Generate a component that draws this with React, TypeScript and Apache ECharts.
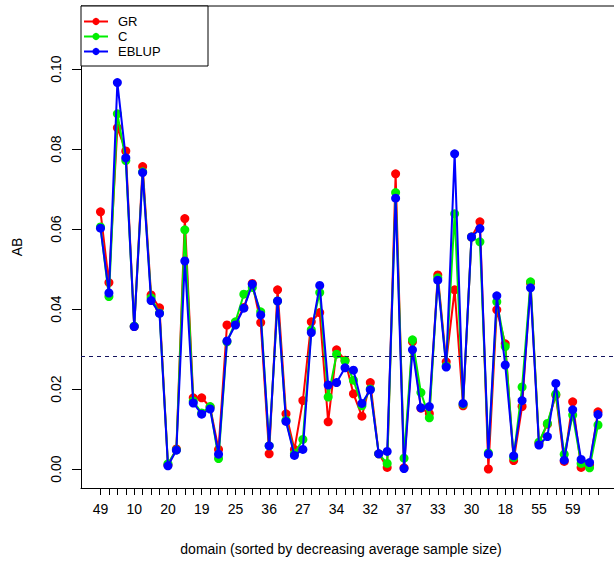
import React, { useEffect, useRef } from "react";
import * as echarts from "echarts";

const domainLabels = [
  "49", "", "", "", "10", "", "", "", "20", "", "", "", "19", "", "", "",
  "25", "", "", "", "36", "", "", "", "27", "", "", "", "34", "", "", "",
  "32", "", "", "", "37", "", "", "", "33", "", "", "", "30", "", "", "",
  "18", "", "", "", "55", "", "", "", "59", "", "", "",
];

const grValues = [
  0.0643, 0.0466, 0.0853, 0.0795, 0.0356, 0.0756, 0.0435, 0.0403, 0.0010, 0.0050,
  0.0626, 0.0178, 0.0178, 0.0155, 0.0049, 0.0360, 0.0364, 0.0404, 0.0464, 0.0366,
  0.0038, 0.0448, 0.0138, 0.0049, 0.0171, 0.0368, 0.0391, 0.0118, 0.0298, 0.0272,
  0.0188, 0.0132, 0.0216, 0.0038, 0.0004, 0.0738, 0.0003, 0.0318, 0.0152, 0.0139,
  0.0485, 0.0268, 0.0448, 0.0158, 0.0580, 0.0618, 0.0000, 0.0398, 0.0313, 0.0021,
  0.0156, 0.0465, 0.0065, 0.0112, 0.0185, 0.0019, 0.0168, 0.0004, 0.0010, 0.0143,
];

const cValues = [
  0.0605, 0.0431, 0.0888, 0.0771, 0.0357, 0.0743, 0.0428, 0.0390, 0.0013, 0.0048,
  0.0598, 0.0170, 0.0140, 0.0156, 0.0026, 0.0318, 0.0368, 0.0437, 0.0454, 0.0393,
  0.0058, 0.0420, 0.0122, 0.0038, 0.0074, 0.0348, 0.0441, 0.0180, 0.0287, 0.0270,
  0.0222, 0.0158, 0.0200, 0.0038, 0.0014, 0.0691, 0.0027, 0.0323, 0.0191, 0.0128,
  0.0478, 0.0258, 0.0638, 0.0162, 0.0580, 0.0568, 0.0040, 0.0418, 0.0306, 0.0029,
  0.0205, 0.0468, 0.0067, 0.0114, 0.0187, 0.0037, 0.0135, 0.0014, 0.0003, 0.0110,
];

const eblupValues = [
  0.0602, 0.0440, 0.0966, 0.0778, 0.0356, 0.0741, 0.0421, 0.0389, 0.0008, 0.0047,
  0.0520, 0.0165, 0.0137, 0.0150, 0.0037, 0.0320, 0.0360, 0.0402, 0.0462, 0.0385,
  0.0058, 0.0420, 0.0119, 0.0034, 0.0049, 0.0341, 0.0459, 0.0210, 0.0216, 0.0253,
  0.0247, 0.0164, 0.0198, 0.0038, 0.0044, 0.0677, 0.0001, 0.0298, 0.0153, 0.0156,
  0.0472, 0.0255, 0.0788, 0.0164, 0.0580, 0.0601, 0.0037, 0.0433, 0.0260, 0.0033,
  0.0171, 0.0453, 0.0060, 0.0081, 0.0214, 0.0022, 0.0148, 0.0024, 0.0016, 0.0136,
];

const yTickValues = [0, 0.02, 0.04, 0.06, 0.08, 0.1];
const seriesNames = ["GR", "C", "EBLUP"];
const referenceLevel = 0.02825;
const yAxisTitle = "AB";
const xAxisTitle = "domain (sorted by decreasing average sample size)";

const FONT = "'Liberation Sans', Arial, Helvetica, sans-serif";
const COLORS = ["#ff0000", "#00ee00", "#0000ff"];

export default function App() {
  const ref = useRef<HTMLDivElement>(null);

  useEffect(() => {
    if (!ref.current) return;
    const chart = echarts.init(ref.current, null, { renderer: "svg" });
    const allValues = [grValues, cValues, eblupValues];
    const xTickValues = domainLabels.map((_, i) => i);
    const xLabelValues = domainLabels.map((l, i) => (l ? i : -1)).filter((i) => i >= 0);

    chart.setOption({
      animation: false,
      backgroundColor: "#fff",
      textStyle: { fontFamily: FONT },
      grid: { left: 81, right: 0, top: 6, bottom: 73, containLabel: false },
      legend: {
        data: seriesNames,
        orient: "vertical",
        left: 83,
        top: 15,
        padding: 0,
        itemWidth: 24,
        itemHeight: 9,
        itemGap: 2,
        z: 6,
        textStyle: { fontSize: 13, color: "#000", fontFamily: FONT, padding: [0, 0, 0, 5] },
      },
      xAxis: {
        type: "value",
        min: -2.3126,
        max: 60.9,
        splitLine: { show: false },
        axisLine: { show: true, onZero: false, lineStyle: { color: "#000", width: 1 } },
        axisTick: { show: true, length: 7, customValues: xTickValues, lineStyle: { color: "#000", width: 1 } },
        axisLabel: {
          fontSize: 14,
          color: "#000",
          fontFamily: FONT,
          margin: 14,
          customValues: xLabelValues,
          formatter: (v: number) => domainLabels[Math.round(v)] ?? "",
        },
      },
      yAxis: {
        type: "value",
        min: -0.00475,
        max: 0.11575,
        splitLine: { show: false },
        axisLine: { show: true, onZero: false, lineStyle: { color: "#000", width: 1 } },
        axisTick: { show: true, length: 9, customValues: yTickValues, lineStyle: { color: "#000", width: 1 } },
        axisLabel: {
          fontSize: 14,
          color: "#000",
          fontFamily: FONT,
          rotate: 90,
          margin: 18,
          customValues: yTickValues,
          formatter: (v: number) => v.toFixed(2),
        },
      },
      series: seriesNames.map((name, k) => ({
        name,
        type: "line",
        data: allValues[k].map((v, i) => [i, v]),
        symbol: "circle",
        symbolSize: 9,
        showAllSymbol: true,
        color: COLORS[k],
        itemStyle: { color: COLORS[k] },
        lineStyle: { color: COLORS[k], width: 2 },
        z: 2 + k * 0.1,
        markLine:
          k === 0
            ? {
                silent: true,
                precision: 6,
                symbol: ["none", "none"],
                label: { show: false },
                lineStyle: { color: "#14145e", width: 1.2, type: [4, 4] },
                data: [{ yAxis: referenceLevel }],
              }
            : undefined,
      })),
      graphic: [
        { type: "line", shape: { x1: 81, y1: 6, x2: 620, y2: 6 }, style: { stroke: "#000", lineWidth: 1 }, z: 5 },
        { type: "rect", shape: { x: 81, y: 6, width: 127, height: 60 }, style: { fill: "#fff", stroke: "#000", lineWidth: 1 }, z: 5 },
        {
          type: "text", x: 17, y: 247, rotation: Math.PI / 2,
          style: { text: yAxisTitle, font: `14px ${FONT}`, fill: "#000", align: "center", verticalAlign: "middle" },
        },
        {
          type: "text", x: 341, y: 549,
          style: { text: xAxisTitle, font: `14px ${FONT}`, fill: "#000", align: "center", verticalAlign: "middle" },
        },
      ],
    });

    return () => chart.dispose();
  }, []);

  return (
    <div
      ref={ref}
      style={{ position: "fixed", left: 0, top: 0, width: 614, height: 561 }}
    />
  );
}
